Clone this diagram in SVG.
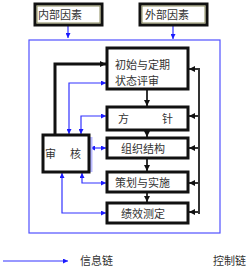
<svg xmlns="http://www.w3.org/2000/svg" width="251" height="270" viewBox="0 0 251 270">
<defs>
<style>
.box{fill:#fff;stroke:#111;stroke-width:3}
.inner{fill:none;stroke:#8a8a5c;stroke-width:1}
.t{font-family:"Noto Sans CJK SC","Noto Sans CJK JP",sans-serif;font-size:11px;fill:#333}
.blue{fill:none;stroke:#3333ff;stroke-width:1.2}
.ctl{fill:none;stroke:#111;stroke-width:3}
.ctl2{fill:none;stroke:#333;stroke-width:2}
</style>
<marker id="ab" viewBox="0 0 6 6" refX="6" refY="3" markerWidth="5" markerHeight="5" orient="auto-start-reverse" markerUnits="userSpaceOnUse">
<path d="M0,0 L6,3 L0,6 z" fill="#1a1aff"/>
</marker>
<marker id="ak" viewBox="0 0 6 6" refX="6" refY="3" markerWidth="6" markerHeight="6" orient="auto" markerUnits="userSpaceOnUse">
<path d="M0,0 L6,3 L0,6 z" fill="#111"/>
</marker>
</defs>
<rect width="251" height="270" fill="#fff"/>
<g id="frame">
<rect x="29" y="40" width="191" height="193" fill="none" stroke="#5050ff" stroke-width="1.2"/>
</g>
<g id="connectors">
<line x1="68" y1="26" x2="68" y2="38" class="blue" marker-end="url(#ab)"/>
<line x1="173" y1="26" x2="173" y2="39" class="blue" marker-end="url(#ab)"/>
<polyline points="55,135 55,64 106,64" class="ctl" marker-end="url(#ak)"/>
<polyline points="69,134 69,83 106,83" class="blue" marker-start="url(#ab)" marker-end="url(#ab)"/>
<polyline points="81,134 81,116 106,116" class="blue" marker-start="url(#ab)" marker-end="url(#ab)"/>
<line x1="90" y1="148" x2="106" y2="148" class="blue" marker-start="url(#ab)" marker-end="url(#ab)"/>
<polyline points="82,173 82,183 106,183" class="blue" marker-start="url(#ab)" marker-end="url(#ab)"/>
<polyline points="62,173 62,213 106,213" class="blue" stroke-width="2" marker-start="url(#ab)" marker-end="url(#ab)"/>
<line x1="147" y1="90" x2="147" y2="106" class="ctl2" marker-end="url(#ak)"/>
<line x1="147" y1="131" x2="147" y2="137" class="ctl2" marker-end="url(#ak)"/>
<line x1="147" y1="159" x2="147" y2="171" class="ctl2" marker-end="url(#ak)"/>
<line x1="147" y1="193" x2="147" y2="202" class="ctl2" marker-end="url(#ak)"/>
<line x1="199" y1="68" x2="199" y2="214" class="ctl2" stroke-width="3"/>
<line x1="199" y1="69" x2="189" y2="69" class="ctl2" marker-end="url(#ak)"/>
<line x1="199" y1="116" x2="189" y2="116" class="ctl2" marker-end="url(#ak)"/>
<line x1="199" y1="148" x2="189" y2="148" class="ctl2" marker-end="url(#ak)"/>
<line x1="199" y1="183" x2="189" y2="183" class="ctl2" marker-end="url(#ak)"/>
<line x1="199" y1="212" x2="189" y2="212" class="ctl2" marker-end="url(#ak)"/>
</g>
<g id="n-internal">
<rect x="35" y="4" width="67" height="21" class="box"/>
<rect x="37" y="6" width="63" height="17" class="inner"/>
<text x="38" y="19" class="t">内部因素</text>
</g>
<g id="n-external">
<rect x="140" y="4" width="67" height="21" class="box"/>
<rect x="142" y="6" width="63" height="17" class="inner"/>
<text x="145" y="19" class="t">外部因素</text>
</g>
<g id="n-review">
<rect x="107" y="48" width="81" height="41" class="box"/>
<text x="115" y="69" class="t">初始与定期</text>
<text x="115" y="85" class="t">状态评审</text>
</g>
<g id="n-policy">
<rect x="107" y="107" width="81" height="23" class="box"/>
<text x="118" y="123" class="t">方</text>
<text x="162" y="123" class="t">针</text>
</g>
<g id="n-org">
<rect x="107" y="138" width="81" height="20" class="box"/>
<text x="121" y="153" class="t">组织结构</text>
</g>
<g id="n-plan">
<rect x="107" y="172" width="81" height="20" class="box"/>
<text x="115" y="187" class="t">策划与实施</text>
</g>
<g id="n-measure">
<rect x="107" y="203" width="81" height="20" class="box"/>
<text x="121" y="218" class="t">绩效测定</text>
</g>
<g id="n-audit">
<rect x="90" y="137" width="2.5" height="35" fill="#b8b8ff"/>
<rect x="43" y="135" width="46" height="37" class="box"/>
<text x="45" y="158" class="t">审</text>
<text x="70" y="158" class="t">核</text>
</g>
<g id="legend">
<line x1="3" y1="261" x2="68" y2="261" class="blue" marker-end="url(#ab)"/>
<text x="80" y="265" class="t">信息链</text>
<text x="213" y="265" class="t">控制链</text>
</g>
</svg>
